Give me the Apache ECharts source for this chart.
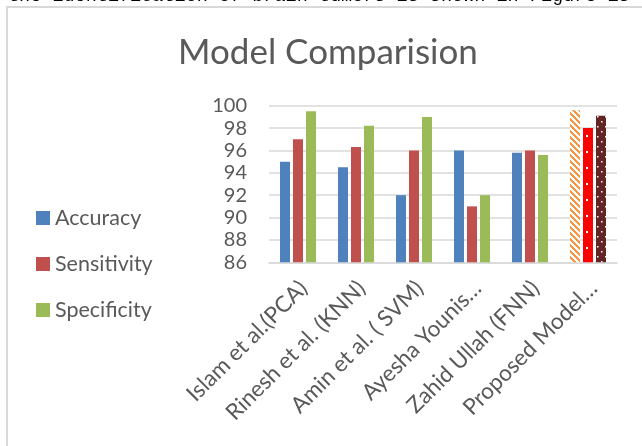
<!DOCTYPE html>
<html>
<head>
<meta charset="utf-8">
<script src="https://cdn.jsdelivr.net/npm/echarts@6/dist/echarts.min.js"></script>
<style>
  html, body { margin: 0; padding: 0; background: #ffffff; }
  #chart { width: 642px; height: 446px; }
</style>
</head>
<body>
<div id="chart"></div>
<script>
// Models compared
const categories = [
  'Islam et al.(PCA)',
  'Rinesh et al. (KNN)',
  'Amin et al. ( SVM)',
  'Ayesha Younis…',
  'Zahid Ullah (FNN)',
  'Proposed Model…'
];
// Scores (%) per model
const accuracy    = [95.0, 94.5, 92.0, 96.0, 95.8, 99.6];
const sensitivity = [97.0, 96.3, 96.0, 91.0, 96.0, 98.0];
const specificity = [99.5, 98.2, 99.0, 92.0, 95.6, 99.1];
const yTicks = { min: 86, max: 100, interval: 2 };

const FONT = 'Lato, "Open Sans", sans-serif';
const TEXT = '#595959';

// Fill patterns for the proposed model's bars
function makePattern(w, h, draw) {
  const c = document.createElement('canvas');
  c.width = w; c.height = h;
  const ctx = c.getContext('2d');
  draw(ctx, w, h);
  return { image: c, repeat: 'repeat' };
}
const hatchOrange = makePattern(6, 6, (ctx, w, h) => {
  ctx.fillStyle = '#ffffff';
  ctx.fillRect(0, 0, w, h);
  ctx.fillStyle = '#f79646';
  for (let i = -w; i < w * 2; i += 6) {
    for (let y = 0; y < h; y++) {
      ctx.fillRect(i + y, y, 3, 1);
    }
  }
});
const dotsRed = makePattern(10, 16, (ctx, w, h) => {
  ctx.fillStyle = '#ff0000';
  ctx.fillRect(0, 0, w, h);
  ctx.fillStyle = '#ffffff';
  ctx.fillRect(6, 7, 2, 2);
});
const dotsBrown = makePattern(8, 10, (ctx, w, h) => {
  ctx.fillStyle = '#632523';
  ctx.fillRect(0, 0, w, h);
  ctx.fillStyle = '#ffffff';
  ctx.fillRect(1, 1, 1.5, 1.5);
  ctx.fillRect(5, 6, 1.5, 1.5);
});

function seriesData(values, lastStyle) {
  return values.map((v, i) => i === values.length - 1
    ? { value: v, itemStyle: { color: lastStyle } }
    : v);
}

const chart = echarts.init(document.getElementById('chart'), null, { renderer: 'canvas' });
chart.setOption({
  animation: false,
  backgroundColor: '#ffffff',
  title: {
    text: 'Model Comparision',
    left: 173,
    top: 30,
    padding: 5,
    textStyle: { fontFamily: FONT, fontSize: 35, fontWeight: 'normal', color: TEXT }
  },
  legend: {
    orient: 'vertical',
    left: 36,
    top: 207,
    padding: 0,
    itemWidth: 14,
    itemHeight: 14,
    itemGap: 24,
    icon: 'rect',
    textStyle: { fontFamily: FONT, fontSize: 21.5, color: TEXT },
    data: ['Accuracy', 'Sensitivity', 'Specificity']
  },
  grid: { left: 269, right: 25, top: 105.7, bottom: 183.7 },
  xAxis: {
    type: 'category',
    data: categories,
    axisTick: { show: false },
    axisLine: { lineStyle: { color: '#d9d9d9', width: 1.5 } },
    axisLabel: {
      rotate: 45,
      interval: 0,
      margin: 28,
      padding: [0, -8, 0, 0],
      fontFamily: FONT,
      fontSize: 22.5,
      color: TEXT
    }
  },
  yAxis: {
    type: 'value',
    min: yTicks.min,
    max: yTicks.max,
    interval: yTicks.interval,
    axisLine: { show: false },
    axisTick: { show: false },
    splitLine: { lineStyle: { color: '#d9d9d9', width: 1.5 } },
    axisLabel: { margin: 22, fontFamily: FONT, fontSize: 20, color: TEXT }
  },
  series: [
    { name: 'Accuracy', type: 'bar', barWidth: 10, barGap: '30%',
      itemStyle: { color: '#4f81bd' }, data: seriesData(accuracy, hatchOrange) },
    { name: 'Sensitivity', type: 'bar', barWidth: 10, barGap: '30%',
      itemStyle: { color: '#c0504d' }, data: seriesData(sensitivity, dotsRed) },
    { name: 'Specificity', type: 'bar', barWidth: 10, barGap: '30%',
      itemStyle: { color: '#9bbb59' }, data: seriesData(specificity, dotsBrown) }
  ],
  graphic: [
    {
      type: 'text',
      left: 8,
      top: -13,
      silent: true,
      style: {
        text: 'the identification of brain tumors is shown in Figure 13',
        font: '18.5px "Liberation Mono", monospace',
        fill: '#000000'
      }
    },
    {
      type: 'rect',
      silent: true,
      shape: { x: 7, y: 7, width: 700, height: 500 },
      style: { fill: null, stroke: '#d9d9d9', lineWidth: 2 }
    }
  ]
});
</script>
</body>
</html>
